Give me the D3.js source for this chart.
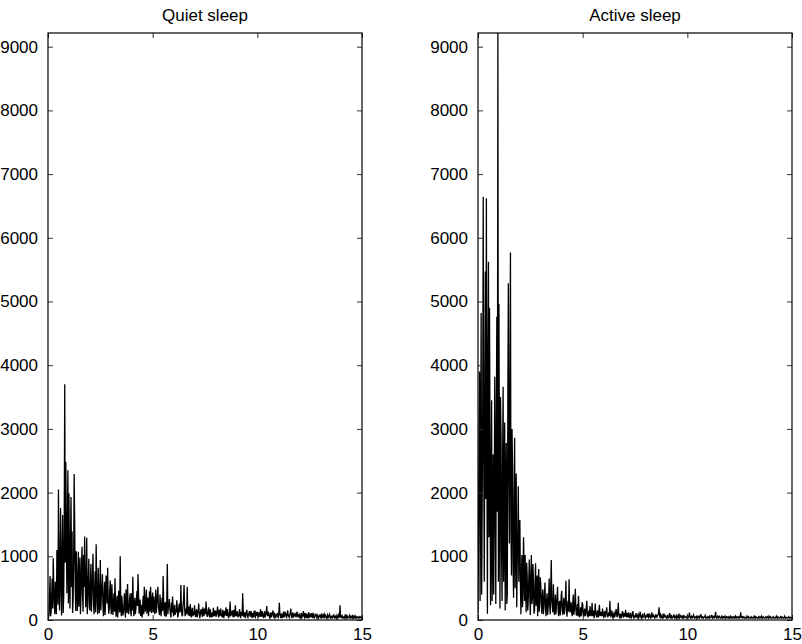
<!DOCTYPE html>
<html>
<head>
<meta charset="utf-8">
<script src="https://cdn.jsdelivr.net/npm/d3@7"></script>
<style>
  html, body { margin: 0; padding: 0; background: #fff; }
  svg { display: block; }
  text { font-family: "Liberation Sans", Arial, Helvetica, sans-serif; fill: #000; }
</style>
</head>
<body>
<svg id="chart" width="802" height="644"></svg>
<script>
// ---- data (frequency 0..15 in steps of 0.025) ----
const xStep = 0.025;
const titles = ["Quiet sleep", "Active sleep"];
const xTicks = [0, 5, 10, 15];
const yTicks = [0, 1000, 2000, 3000, 4000, 5000, 6000, 7000, 8000, 9000];
const yMax = 9215;

const quietSleep = [
  30,40,80,420,690,60,120,380,650,180,970,540,260,90,600,310,90,1100,820,240,2050,640,150,980,1760,420,70,1180,1650,110,380,1450,3700,900,2480,1600,420,1200,2350,260,
  1990,850,180,1250,1930,520,1390,110,310,900,2290,1500,520,140,1080,700,140,480,1070,210,620,980,90,360,850,1150,410,130,1020,520,1310,700,200,560,1290,90,330,640,960,210,
  150,540,880,130,420,690,1040,300,90,410,760,120,1190,640,260,90,820,480,110,330,940,150,380,520,720,230,60,350,600,80,280,700,520,260,820,340,100,170,470,620,
  200,90,560,310,80,240,420,130,655,280,50,190,380,40,150,460,300,120,1000,250,60,380,260,70,120,210,420,150,40,480,300,110,565,260,90,160,330,420,140,60,
  420,150,680,290,60,210,350,90,180,330,460,220,720,410,100,200,320,60,240,150,40,270,380,90,520,330,130,250,480,100,300,350,60,200,450,130,520,280,110,320,
  430,120,370,230,90,300,480,110,260,380,520,200,140,80,400,240,60,190,350,140,690,300,120,60,280,170,50,330,880,90,200,240,330,160,90,40,270,120,370,210,
  60,170,240,80,150,120,310,200,40,90,200,260,120,210,550,150,80,60,230,310,550,200,60,120,180,90,520,180,70,210,160,60,250,110,40,150,190,60,120,80,
  230,120,50,90,170,40,100,150,260,110,30,80,150,170,90,50,200,110,60,180,130,90,290,150,50,70,140,200,80,40,170,100,40,70,120,50,190,110,60,130,
  150,50,90,130,210,90,40,160,130,60,180,100,70,40,160,90,30,140,120,70,200,100,60,170,110,30,50,120,290,60,80,110,150,80,40,160,120,50,230,90,
  60,110,140,40,90,60,170,80,30,130,100,60,420,150,50,90,120,30,80,130,160,60,40,80,110,140,70,50,140,90,30,110,90,40,150,70,50,120,100,60,
  130,70,40,120,90,50,170,90,50,140,110,60,30,90,140,40,70,110,220,90,60,130,100,50,30,80,120,40,80,110,150,60,40,100,90,30,60,80,110,50,
  40,90,270,110,60,30,100,70,30,90,130,40,70,120,110,50,40,90,150,70,60,40,90,110,180,60,30,80,120,40,60,90,100,70,40,100,130,60,50,80,
  90,50,30,70,110,40,60,90,140,60,40,110,80,30,100,60,30,80,120,40,50,90,70,40,110,60,30,100,90,40,60,70,100,50,30,80,70,30,50,60,
  90,40,30,80,60,30,100,50,40,90,70,40,30,60,80,30,50,70,90,40,30,60,60,30,40,70,80,40,30,60,50,30,70,50,30,80,60,40,230,50,
  40,60,70,30,30,50,50,30,90,40,30,70,60,30,40,50,70,30,30,60,50,30,80,40,30,60,40,30,60,40,30,50,50,30,40,50,30,40,50,30,
  40
];

const activeSleep = [
  120,1400,2700,3900,300,2200,4820,400,1800,3300,6645,2500,600,3100,5470,1900,6620,2600,100,4200,5625,1300,4900,2700,230,1800,3450,300,1200,2600,400,1600,3820,2100,250,3100,4760,1700,9215,600,
  4960,2200,180,3500,2900,1100,300,2500,3660,600,1500,3100,150,1900,2780,250,400,3400,5285,2300,1200,3600,5770,1400,700,3000,2400,900,350,1900,2860,500,1690,2300,200,900,1350,2100,600,1200,
  1570,600,90,750,1020,200,400,1300,850,300,1020,550,120,900,700,150,300,620,950,400,80,700,1020,250,350,880,600,100,150,560,890,220,400,700,60,420,800,130,300,670,
  550,240,100,380,480,90,220,400,590,180,60,300,420,80,180,350,650,230,90,520,940,310,200,120,560,300,80,200,400,90,250,330,520,180,60,260,300,70,150,380,
  460,200,80,240,350,90,200,330,615,150,50,210,300,130,640,260,120,190,280,110,60,230,400,80,150,300,490,160,70,120,250,60,380,150,40,100,200,60,120,280,
  250,100,50,140,180,60,90,200,300,90,40,110,150,60,220,120,60,90,270,60,100,150,30,90,260,110,80,40,150,100,40,150,240,60,100,130,60,90,180,70,
  50,110,140,40,90,130,200,70,40,90,120,60,300,100,60,80,150,50,30,90,110,40,70,120,170,80,40,110,270,90,60,40,100,70,30,90,140,60,50,100,
  90,50,160,80,40,110,80,40,120,70,30,90,100,40,60,80,140,50,30,60,70,40,110,60,40,70,90,30,50,90,130,50,30,60,80,40,60,70,110,40,
  30,60,70,40,100,60,40,90,80,40,30,70,120,50,50,80,70,40,30,60,90,50,40,70,80,110,200,60,40,90,70,40,30,60,100,40,50,80,60,40,
  30,50,80,30,40,60,110,40,30,70,60,30,40,50,90,40,30,60,50,30,70,50,30,60,100,30,40,70,60,40,30,50,80,30,40,60,50,40,30,50,
  70,30,40,60,115,40,30,50,60,30,40,60,80,40,30,50,50,30,70,40,30,50,60,30,40,60,90,40,30,50,50,30,40,50,70,30,30,40,50,30,
  30,50,60,30,40,50,80,40,30,60,50,30,40,70,130,40,30,50,60,30,40,60,50,30,30,40,70,30,40,50,30,40,60,30,40,50,30,40,50,30,
  40,30,70,40,30,50,50,30,40,50,30,40,60,30,30,50,40,30,50,40,30,60,120,40,40,50,30,40,50,30,30,40,40,30,60,40,30,50,40,30,
  30,40,50,30,30,40,40,30,70,40,30,50,40,30,30,40,50,30,30,50,40,30,60,40,30,50,40,30,30,40,50,30,30,50,40,30,60,40,30,50,
  40,30,30,40,50,30,30,40,40,30,60,40,30,50,40,30,30,40,50,30,30,50,40,30,30,40,60,30,30,40,40,30,30,40,50,30,30,40,40,30,
  30
];

const seriesList = [quietSleep, activeSleep];

// ---- layout ----
const svg = d3.select("#chart");
const panels = [
  { left: 48, right: 362 },
  { left: 478, right: 792 }
];
const plotTop = 33, plotBottom = 620;
const tickLen = 5;

const y = d3.scaleLinear().domain([0, yMax]).range([plotBottom, plotTop]);

panels.forEach((p, k) => {
  const x = d3.scaleLinear().domain([0, 15]).range([p.left, p.right]);
  const g = svg.append("g");
  const data = seriesList[k].map((v, i) => [i * xStep, v]);

  const clipId = "clip" + k;
  svg.append("clipPath").attr("id", clipId)
    .append("rect").attr("x", p.left).attr("y", plotTop)
    .attr("width", p.right - p.left).attr("height", plotBottom - plotTop);

  g.append("path")
    .datum(data)
    .attr("clip-path", `url(#${clipId})`)
    .attr("fill", "none")
    .attr("stroke", "#000")
    .attr("stroke-width", 1.3)
    .attr("stroke-linejoin", "miter")
    .attr("d", d3.line().x(d => x(d[0])).y(d => y(d[1])));

  const axL = d3.axisLeft(y).tickValues(yTicks).tickSizeInner(-tickLen).tickSizeOuter(0).tickPadding(10).tickFormat(d3.format("d"));
  const axR = d3.axisRight(y).tickValues(yTicks).tickSizeInner(-tickLen).tickSizeOuter(0).tickFormat("");
  const axB = d3.axisBottom(x).tickValues(xTicks).tickSizeInner(-tickLen).tickSizeOuter(0).tickPadding(8).tickFormat(d3.format("d"));
  const axT = d3.axisTop(x).tickValues(xTicks).tickSizeInner(-tickLen).tickSizeOuter(0).tickFormat("");

  const gl = g.append("g").attr("transform", `translate(${p.left},0)`).call(axL);
  const gr = g.append("g").attr("transform", `translate(${p.right},0)`).call(axR);
  const gb = g.append("g").attr("transform", `translate(0,${plotBottom})`).call(axB);
  const gt = g.append("g").attr("transform", `translate(0,${plotTop})`).call(axT);

  [gl, gr, gb, gt].forEach(a => {
    a.select(".domain").remove();
    a.selectAll("line").attr("stroke", "#333").attr("stroke-width", 1);
    a.selectAll("text").style("font-size", "17px").style("font-family", "'Liberation Sans', Arial, sans-serif").attr("fill", "#000");
  });

  g.append("rect")
    .attr("x", p.left).attr("y", plotTop)
    .attr("width", p.right - p.left).attr("height", plotBottom - plotTop)
    .attr("fill", "none").attr("stroke", "#000").attr("stroke-width", 1.2);

  g.append("text")
    .attr("x", (p.left + p.right) / 2).attr("y", 21)
    .attr("text-anchor", "middle")
    .style("font-size", "17px")
    .text(titles[k]);
});
</script>
</body>
</html>
